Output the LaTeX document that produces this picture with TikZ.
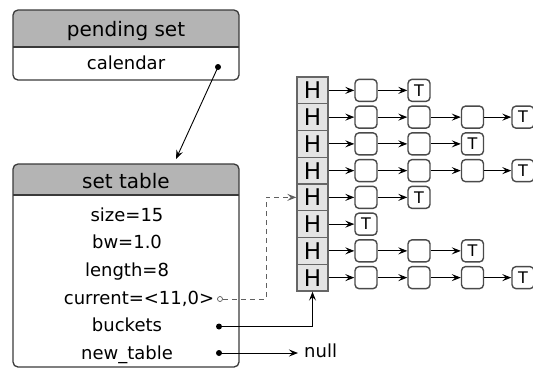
\documentclass[tikz,border=0pt]{standalone}
\usepackage{fontspec}
\setmainfont{DejaVu Sans}
\usetikzlibrary{arrows.meta}
\definecolor{boxline}{HTML}{3A3A3A}
\definecolor{headfill}{HTML}{B4B4B4}
\definecolor{cellfill}{HTML}{E4E4E4}
\definecolor{cellline}{HTML}{666666}
\definecolor{itemline}{HTML}{4A4A4A}
\begin{document}
\begin{tikzpicture}[x=1pt,y=-1pt,
  hdr/.style={font=\fontsize{20}{22}\selectfont, inner sep=0, anchor=base},
  fld/.style={font=\fontsize{18}{20}\selectfont, inner sep=0, anchor=base},
  ptr/.style={circle, fill=black, inner sep=0, minimum size=6},
  curptr/.style={circle, draw=gray!70!black, fill=white, inner sep=0, minimum size=5, line width=0.7},
  link/.style={line width=0.9, -{Stealth[length=9,width=7,inset=3.5]}},
  frame/.style={draw=boxline, line width=1.3, rounded corners=5},
  hcell/.style={draw=cellline, fill=cellfill, line width=1.4, minimum width=31,
                minimum height=26.75, inner sep=0, font=\fontsize{23}{23}\selectfont},
  item/.style={draw=itemline, fill=white, rounded corners=4, line width=1.4,
               minimum size=22, inner sep=0, font=\fontsize{16}{16}\selectfont},
]
\useasboundingbox (0,0) rectangle (533,368);

% ---- pending set record ----
\begin{scope}
  \clip[rounded corners=5] (13,10) rectangle (239,80);
  \fill[headfill] (13,10) rectangle (239,47);
\end{scope}
\draw[frame] (13,10) rectangle (239,80);
\draw[boxline, line width=1.3] (13,47) -- (239,47);
\node[hdr] (pshead) at (126,36.5) {pending set};
\node[fld] (pscal) at (126,69) {calendar};
\node[ptr] (caldot) at (218,67) {};

% ---- set table record ----
\begin{scope}
  \clip[rounded corners=5] (13,164) rectangle (239,367);
  \fill[headfill] (13,164) rectangle (239,195);
\end{scope}
\draw[frame] (13,164) rectangle (239,367);
\draw[boxline, line width=1.3] (13,195) -- (239,195);
\node[hdr] (sthead) at (126,188) {set table};
\node[fld] (fsize) at (127,221) {size=15};
\node[fld] (fbw) at (127,248.5) {bw=1.0};
\node[fld] (flen) at (127,276) {length=8};
\node[fld] (fcur) at (139,304) {current=<11,0>};
\node[fld] (fbuck) at (127,331.5) {buckets};
\node[fld] (fnew) at (127,359) {new\_table};
\node[curptr] (curdot) at (220,299) {};
\node[ptr] (bkdot) at (219,326.5) {};
\node[ptr] (ntdot) at (219,353) {};

% calendar -> set table
\coordinate (tblin) at (176,159);
\draw[link] (caldot.center) -- (tblin);

% ---- bucket array ----
\foreach \r in {1,...,8}
  \node[hcell] (h\r) at (312.5,{77+26.75*(\r-0.5)}) {H};

% ---- bucket chains, last entry is the tail ----
\foreach \r/\n in {1/1,2/3,3/2,4/3,5/1,6/0,7/2,8/3} {
  \pgfmathtruncatemacro\nlast{\n+1}
  \foreach \c in {1,...,\nlast} {
    \pgfmathsetmacro\cx{{366,419,472.5,523}[\c-1]}
    \pgfmathtruncatemacro\cprev{\c-1}
    \ifnum\c=\nlast \def\lbl{T}\else\def\lbl{}\fi
    \node[item] (e\r-\c) at (\cx,{77+26.75*(\r-0.5)}) {\lbl};
    \ifnum\c=1
      \draw[link] (h\r) -- (e\r-\c);
    \else
      \draw[link] (e\r-\cprev) -- (e\r-\c);
    \fi
  }
}

% current -> bucket 5 (dashed)
\coordinate (curbend) at (266,299);
\draw[link, gray!75!black, dash pattern=on 5pt off 4pt] (curdot) -- (curbend) |- (h5.west);

% buckets -> array
\draw[link] (bkdot.center) -| (h8.south);

% new_table -> null
\node[font=\fontsize{18}{20}\selectfont, inner sep=0, anchor=base west] (nullnd) at (304,357) {null};
\draw[link] (ntdot.center) -- (ntdot -| nullnd.west) [shorten >=6pt];
\end{tikzpicture}
\end{document}
